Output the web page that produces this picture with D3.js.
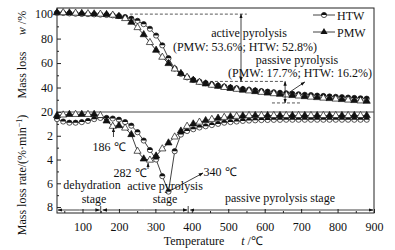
<!DOCTYPE html>
<html><head><meta charset="utf-8">
<script src="https://cdn.jsdelivr.net/npm/d3@7"></script>
<style>
body{margin:0;background:#fff}
svg{display:block}
</style>
</head><body>
<svg id="c" width="395" height="250" font-family="'Liberation Serif', 'Times New Roman', serif"></svg>
<script>
// ---- data ----
const temps = [30,47,64,81,98,115,132,149,166,183,200,217,234,251,268,285,302,319,336,353,370,387,404,421,438,455,472,489,506,523,540,557,574,591,608,625,642,659,676,693,710,727,744,761,778,795,812,829,846,863,880];
const htwMass = [101.0,100.9,100.6,100.3,100.1,100.0,99.8,99.6,99.3,99.0,98.4,97.6,96.3,94.5,91.8,88.0,82.5,74.5,64.0,55.5,51.2,48.3,46.2,44.8,43.6,42.5,41.6,40.8,40.1,39.4,38.8,38.2,37.6,37.1,36.6,36.1,35.7,35.3,34.9,34.5,34.1,33.8,33.4,33.1,32.7,32.4,32.1,31.8,31.5,31.2,30.9];
const pmwMass = [101.2,101.2,101.0,100.8,100.6,100.4,100.2,100.0,99.7,99.2,98.2,96.4,93.4,89.0,83.2,76.8,70.5,64.8,59.6,55.2,51.5,48.4,46.0,44.3,43.0,41.9,41.0,40.1,39.3,38.6,37.9,37.3,36.7,36.1,35.5,35.0,34.5,34.0,33.5,33.1,32.6,32.2,31.8,31.4,31.0,30.6,30.2,29.8,29.4,29.1,28.8];
const htwRate = [0.6,0.8,0.9,0.9,0.85,0.75,0.6,0.5,0.5,0.55,0.65,0.85,1.15,1.7,2.4,3.2,4.0,5.4,6.7,3.3,1.9,1.6,1.45,1.3,1.2,1.1,1.0,0.9,0.85,0.8,0.75,0.72,0.7,0.68,0.67,0.66,0.66,0.65,0.65,0.65,0.65,0.65,0.65,0.65,0.65,0.65,0.65,0.65,0.65,0.65,0.65];
const pmwRate = [0.3,0.25,0.2,0.2,0.2,0.2,0.2,0.3,0.75,1.2,1.15,1.35,1.9,3.3,3.95,4.05,3.7,3.1,2.6,2.1,1.6,1.2,1.0,0.85,0.72,0.62,0.52,0.45,0.4,0.36,0.33,0.3,0.3,0.3,0.3,0.3,0.3,0.3,0.3,0.3,0.3,0.3,0.3,0.3,0.3,0.3,0.3,0.3,0.3,0.3,0.3];
const xTicks = [100,200,300,400,500,600,700,800,900];
const xMinor = [50,150,250,350,450,550,650,750,850];
const massTicks = [20,40,60,80,100];
const massMinor = [30,50,70,90];
const rateTicks = [2,4,6,8];
const rateMinor = [1,3,5,7];
const seriesNames = ["HTW","PMW"];

// ---- layout ----
const FONT="'Liberation Serif','Times New Roman',serif";
const L=57,R=374,T=8,B=213,MID=112;
const svg=d3.select("#c");
const x=d3.scaleLinear().domain([30,900]).range([L,R]);
const yM=d3.scaleLinear().domain([20,105]).range([MID,T]);
const yR=d3.scaleLinear().domain([0,8.5]).range([MID,B]);

const defs=svg.append("defs");
defs.append("marker").attr("id","ah").attr("viewBox","0 0 10 10").attr("refX",9).attr("refY",5)
  .attr("markerWidth",6).attr("markerHeight",6).attr("orient","auto-start-reverse")
  .append("path").attr("d","M0,1.5L10,5L0,8.5z").attr("fill","#111");

// axes
function styleAxis(g){g.attr("font-family",FONT);g.select(".domain").remove();g.selectAll("line").attr("stroke","#222");g.selectAll("text").attr("font-family",FONT).attr("font-size",12).attr("fill","#111");}
svg.append("g").attr("transform",`translate(0,${B})`).call(d3.axisBottom(x).tickValues(xTicks).tickSize(-4).tickPadding(9)).call(styleAxis);
svg.append("g").attr("transform",`translate(0,${B})`).call(d3.axisBottom(x).tickValues(xMinor).tickSize(-2).tickFormat("")).call(styleAxis);
svg.append("g").attr("transform",`translate(${L},0)`).call(d3.axisLeft(yM).tickValues(massTicks).tickSize(-4).tickPadding(4)).call(styleAxis);
svg.append("g").attr("transform",`translate(${L},0)`).call(d3.axisLeft(yM).tickValues(massMinor).tickSize(-2).tickFormat("")).call(styleAxis);
svg.append("g").attr("transform",`translate(${L},0)`).call(d3.axisLeft(yR).tickValues(rateTicks).tickSize(-4).tickPadding(4)).call(styleAxis);
svg.append("g").attr("transform",`translate(${L},0)`).call(d3.axisLeft(yR).tickValues(rateMinor).tickSize(-2).tickFormat("")).call(styleAxis);

// frame + divider
svg.append("rect").attr("x",L).attr("y",T).attr("width",R-L).attr("height",B-T).attr("fill","none").attr("stroke","#222").attr("stroke-width",1);
svg.append("line").attr("x1",L).attr("x2",R).attr("y1",MID).attr("y2",MID).attr("stroke","#444").attr("stroke-width",1);

// series drawing
const halfCircle=r=>`M${-r},0A${r},${r} 0 0 1 ${r},0Z`;
function drawSeries(vals,y,kind){
  const pts=temps.map((t,i)=>[x(t),y(vals[i])]);
  svg.append("path").attr("d",d3.line()(pts)).attr("fill","none").attr("stroke","#111").attr("stroke-width",0.8);
  const g=svg.append("g");
  pts.forEach((p,i)=>{
    const m=g.append("g").attr("transform",`translate(${p[0]},${p[1]})`);
    if(kind==="c"){
      m.append("circle").attr("r",2.6).attr("fill","#fff").attr("stroke","#111").attr("stroke-width",0.7);
      m.append("path").attr("d",halfCircle(2.6)).attr("fill","#111");
    } else {
      m.append("path").attr("d",d3.symbol(d3.symbolTriangle,22)()).attr("fill",i%2===0?"#111":"#fff").attr("stroke","#111").attr("stroke-width",0.7);
    }
  });
}
drawSeries(htwMass,yM,"c");
drawSeries(pmwMass,yM,"t");
drawSeries(htwRate,yR,"c");
drawSeries(pmwRate,yR,"t");

const txt=(s,xx,yy,anchor)=>svg.append("text").attr("x",xx).attr("y",yy).attr("text-anchor",anchor||"middle").attr("font-family",FONT).attr("font-size",12).attr("fill","#111").text(s);

// legend
const leg=[{n:seriesNames[0],k:"c",y:15},{n:seriesNames[1],k:"t",y:32}];
leg.forEach(d=>{
  svg.append("line").attr("x1",313).attr("x2",335).attr("y1",d.y).attr("y2",d.y).attr("stroke","#111").attr("stroke-width",0.8);
  const m=svg.append("g").attr("transform",`translate(324,${d.y})`);
  if(d.k==="c"){m.append("circle").attr("r",2.6).attr("fill","#fff").attr("stroke","#111").attr("stroke-width",0.7);m.append("path").attr("d",halfCircle(2.6)).attr("fill","#111");}
  else m.append("path").attr("d",d3.symbol(d3.symbolTriangle,22)()).attr("fill","#111");
  txt(d.n,337,d.y+4.5,"start");
});

// annotations (TG)
const dash=(t1,t2,v)=>svg.append("line").attr("x1",x(t1)).attr("x2",x(t2)).attr("y1",yM(v)).attr("y2",yM(v)).attr("stroke","#111").attr("stroke-width",0.7).attr("stroke-dasharray","3,2");
dash(230,551,100);
dash(436,653,45);
dash(620,697,27.4);
const arrow=(x1,y1,x2,y2,both)=>{const l=svg.append("line").attr("x1",x1).attr("y1",y1).attr("x2",x2).attr("y2",y2).attr("stroke","#111").attr("stroke-width",0.8).attr("marker-end","url(#ah)");if(both)l.attr("marker-start","url(#ah)");return l;};
arrow(x(535),yM(100),x(535),yM(45),true);
arrow(x(656),yM(45),x(656),yM(27.4),true);
arrow(x(665),93,x(710),82,false);
txt("active pyrolysis",249,37);
txt("(PMW: 53.6%; HTW: 52.8%)",245,51);
txt("passive pyrolysis",297,64);
txt("(PMW: 17.7%; HTW: 16.2%)",300,77);

// annotations (DTG)
txt("186 ℃",109,151);
arrow(x(185),137,x(185),yR(1.35),false);
txt("282 ℃",130,177);
arrow(148,169,x(280),yR(4.3),false);
txt("340 ℃",220,176);
arrow(x(336),yR(6.7),203,173,false);

// stages
txt("dehydration",92,189);
txt("stage",94,203);
txt("active pyrolysis",165,190);
txt("stage",165,203);
txt("passive pyrolysis stage",280,202);
const sy=210;
arrow(x(92),sy,L+1,sy,false);arrow(x(92),sy,x(150)-1,sy,false);
arrow(x(270),sy,x(150)+2,sy,false);arrow(x(270),sy,x(390)-1,sy,false);
arrow(x(640),sy,x(390)+2,sy,false);arrow(x(640),sy,R-1,sy,false);
[150,390].forEach(t=>svg.append("line").attr("x1",x(t)).attr("x2",x(t)).attr("y1",sy-4).attr("y2",sy+3).attr("stroke","#111").attr("stroke-width",0.8));

// axis titles
const rot=(cx,cy)=>svg.append("text").attr("text-anchor","middle").attr("transform",`translate(${cx},${cy}) rotate(-90)`).attr("font-family",FONT).attr("font-size",12).attr("fill","#111");
rot(26,175).html('Mass loss rate/(%·min<tspan dy="-4" font-size="8">−1</tspan><tspan dy="4">)</tspan>');
rot(26,75).text("Mass loss");
rot(26,23).html('<tspan font-style="italic">w</tspan> /%');
txt("Temperature",194,245);
svg.append("text").attr("x",252).attr("y",245).attr("text-anchor","middle").attr("font-family",FONT).attr("font-size",12).attr("fill","#111").html('<tspan font-style="italic">t</tspan> /℃');
</script>
</body></html>
